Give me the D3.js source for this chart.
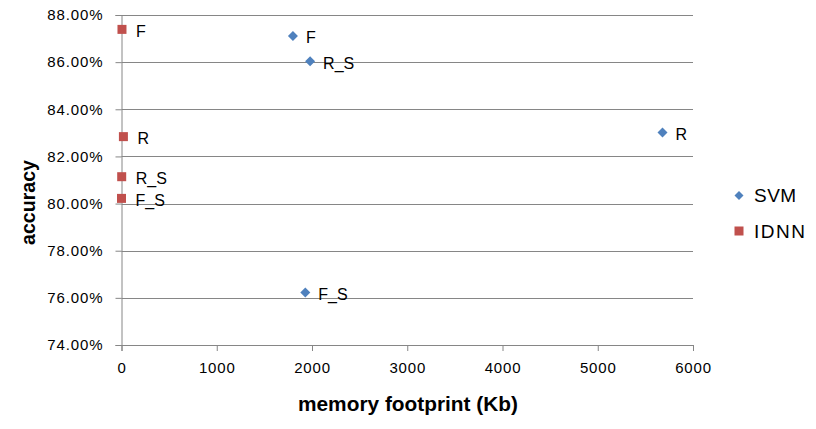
<!DOCTYPE html>
<html><head><meta charset="utf-8">
<script src="https://cdn.jsdelivr.net/npm/d3@7"></script>
<style>body{margin:0;background:#fff}svg{display:block}text{font-family:"Liberation Sans",Arial,sans-serif;fill:#000}</style>
</head><body><svg id="c" width="816" height="429"></svg>
<script>
const seriesNames = ["SVM", "IDNN"];
const svmX = [1800, 1980, 5680, 1930];
const svmY = [0.8711, 0.8604, 0.8302, 0.7623];
const svmLabels = ["F", "R_S", "R", "F_S"];
const idnnX = [5, 20, 2, 0];
const idnnY = [0.8739, 0.8284, 0.8114, 0.8022];
const idnnLabels = ["F", "R", "R_S", "F_S"];
const xTicks = [0, 1000, 2000, 3000, 4000, 5000, 6000];
const yTicks = [0.74, 0.76, 0.78, 0.80, 0.82, 0.84, 0.86, 0.88];
const colors = ["#4F81BD", "#C0504D"];

const svg = d3.select("#c");
const L = 121.5, R = 693, T = 15, B = 345;
const x = d3.scaleLinear().domain([0, 6000]).range([L, R]);
const y = d3.scaleLinear().domain([0.74, 0.88]).range([B, T]);

// gridlines
svg.append("g").selectAll("line").data(yTicks.slice(1)).join("line")
  .attr("x1", L).attr("x2", R).attr("y1", d => Math.round(y(d)) + 0.5).attr("y2", d => Math.round(y(d)) + 0.5)
  .attr("stroke", "#868686").attr("stroke-width", 1);

const yAxis = svg.append("g").attr("transform", `translate(${L},0)`)
  .call(d3.axisLeft(y).tickValues(yTicks).tickFormat(d3.format(".2%")).tickSize(6).tickPadding(12));
const xAxis = svg.append("g").attr("transform", `translate(0,${B})`)
  .call(d3.axisBottom(x).tickValues(xTicks).tickFormat(d3.format("d")).tickSize(6).tickPadding(11));
[yAxis, xAxis].forEach(a => {
  a.select(".domain").attr("stroke", "#868686");
  a.selectAll(".tick line").attr("stroke", "#868686");
  a.selectAll(".tick text").attr("font-size", 15).attr("font-family", "Liberation Sans").attr("fill", "#000");
});
yAxis.selectAll(".tick text").attr("letter-spacing", 0.9);
xAxis.selectAll(".tick text").attr("letter-spacing", 0.8);

// axis titles
svg.append("text").attr("x", 408).attr("y", 411).attr("text-anchor", "middle")
  .attr("font-weight", "bold").attr("font-size", 21)
  .attr("textLength", 220).attr("lengthAdjust", "spacingAndGlyphs").text("memory footprint (Kb)");
svg.append("text").attr("transform", "translate(35,202.5) rotate(-90)").attr("text-anchor", "middle")
  .attr("font-weight", "bold").attr("font-size", 21)
  .attr("textLength", 85).attr("lengthAdjust", "spacingAndGlyphs").text("accuracy");

const diamondPath = (h) => `M0,${-h}L${h},0L0,${h}L${-h},0Z`;
const svm = svmX.map((v, i) => ({x: v, y: svmY[i], l: svmLabels[i]}));
const idnn = idnnX.map((v, i) => ({x: v, y: idnnY[i], l: idnnLabels[i]}));

svg.append("g").selectAll("path").data(svm).join("path")
  .attr("d", diamondPath(5))
  .attr("transform", d => `translate(${x(d.x)},${y(d.y)})`)
  .attr("fill", colors[0]);
svg.append("g").selectAll("rect").data(idnn).join("rect")
  .attr("x", d => x(d.x) - 4.5).attr("y", d => y(d.y) - 4.5).attr("width", 9).attr("height", 9)
  .attr("fill", colors[1]);

const lab = svg.append("g");
lab.selectAll("text.s").data(svm).join("text").attr("class", "s")
  .attr("x", d => x(d.x) + 13).attr("y", d => y(d.y) + 7.5).attr("font-size", 16).text(d => d.l);
lab.selectAll("text.i").data(idnn).join("text").attr("class", "i")
  .attr("x", d => x(d.x) + 14).attr("y", d => y(d.y) + 7.5).attr("font-size", 16).text(d => d.l);

// legend
const lg = svg.append("g");
lg.append("path").attr("d", diamondPath(4.5))
  .attr("transform", "translate(739,195.5)").attr("fill", colors[0]);
lg.append("rect").attr("x", 734.5).attr("y", 226.5).attr("width", 9).attr("height", 9).attr("fill", colors[1]);
lg.append("text").attr("x", 754).attr("y", 202).attr("font-size", 19).attr("letter-spacing", 0.5).text(seriesNames[0]);
lg.append("text").attr("x", 754).attr("y", 238).attr("font-size", 19).attr("letter-spacing", 1.5).text(seriesNames[1]);
</script></body></html>
